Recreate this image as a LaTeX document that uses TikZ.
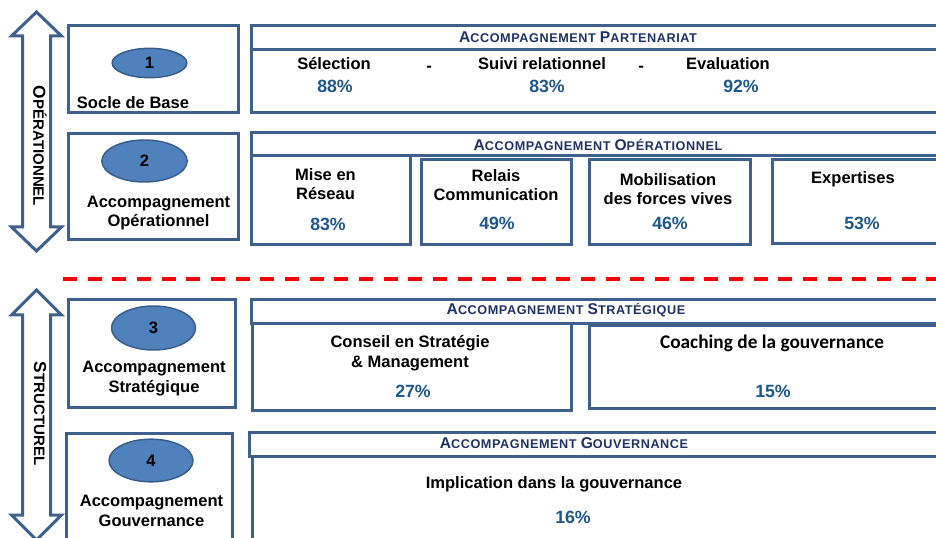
\documentclass[tikz,border=0pt]{standalone}
\usepackage{fontspec}
\setmainfont{Liberation Sans}
\newfontfamily\calibri{Carlito}
\newfontfamily\spacedsans[LetterSpace=4.5]{Liberation Sans}
\usetikzlibrary{shapes.geometric}
\definecolor{frame}{RGB}{62,96,140}
\definecolor{bubblefill}{RGB}{79,129,189}
\definecolor{bubbleline}{RGB}{56,93,138}
\definecolor{titlenavy}{RGB}{31,50,100}
\definecolor{pctblue}{RGB}{30,88,138}
\definecolor{cutred}{RGB}{255,0,0}
\newcommand\ttlsc[2]{{\fontsize{11.7}{13}\selectfont#1}{\fontsize{9.5}{13}\selectfont#2}}
\newcommand\sidesc[2]{{\fontsize{13}{15}\selectfont#1}{\fontsize{11.3}{15}\selectfont#2}}
\begin{document}
\begin{tikzpicture}[x=0.75pt,y=-0.75pt]
        \tikzset{panel/.style={draw=frame,line width=2.25pt,fill=white},
            bigarrow/.style={draw=frame,line width=2.25pt,fill=white,line join=miter},
            bubble/.style={ellipse,draw=bubbleline,line width=1.1pt,fill=bubblefill,inner sep=0pt,
                font=\bfseries\fontsize{12.4}{14}\selectfont},
            lbl/.style={font=\bfseries\fontsize{12.4}{14.6}\selectfont,align=center,inner sep=0pt},
            pct/.style={font=\bfseries\fontsize{13.3}{15}\selectfont,text=pctblue,inner sep=0pt},
            ttl/.style={font=\spacedsans\bfseries\fontsize{9.5}{11}\selectfont,text=titlenavy,inner sep=0pt},
            side/.style={font=\bfseries,rotate=-90,inner sep=0pt}}
        \useasboundingbox (0,0) rectangle (936,538);
        \fill[white] (0,0) rectangle (936,538);
        \clip (0,0) rectangle (936,538);
        % side arrows
        \draw[bigarrow] (36.5,12) -- (61.5,36) -- (50.5,36) -- (50.5,227) -- (61.5,227)
            -- (36.5,251) -- (11.5,227) -- (22.5,227) -- (22.5,36) -- (11.5,36) -- cycle;
        \draw[bigarrow] (36.5,290) -- (61.5,315) -- (50.5,315) -- (50.5,515) -- (61.5,515)
            -- (36.5,540) -- (11.5,515) -- (22.5,515) -- (22.5,315) -- (11.5,315) -- cycle;
        \node[side] (oper) at (40,146) {\sidesc{O}{PÉRATIONNEL}};
        \node[side] (struct) at (40,413.5) {\sidesc{S}{TRUCTUREL}};
        \draw[cutred,line width=3pt,dash pattern=on 10.5pt off 8pt] (63,279) -- (940,279);
        % left column
        \draw[panel] (68.5,26) rectangle (238.5,112.5);
        \draw[panel] (68.5,133.5) rectangle (238.5,240);
        \draw[panel] (68.5,300) rectangle (235,408);
        \draw[panel] (66.5,433.5) rectangle (232,560);
        \node[bubble,minimum width=56pt,minimum height=22pt] (n1) at (149.5,63) {1};
        \node[bubble,minimum width=64pt,minimum height=31.5pt] (n2) at (144.5,161) {2};
        \node[bubble,minimum width=63pt,minimum height=33pt] (n3) at (153.5,328) {3};
        \node[bubble,minimum width=63pt,minimum height=32pt] (n4) at (151,460.5) {4};
        \node[lbl] (socle) at (133,103) {Socle de Base};
        \node[lbl] (opleft) at (158.5,213) {Accompagnement\\Opérationnel};
        \node[lbl] (stleft) at (154,378.5) {Accompagnement\\Stratégique};
        \node[lbl] (gvleft) at (151.5,511) {Accompagnement\\Gouvernance};
        % partenariat
        \draw[panel] (251.5,26) rectangle (945,49.3);
        \draw[panel] (251.5,49.3) rectangle (945,112.3);
        \node[ttl] (tpart) at (578,37) {\ttlsc{A}{CCOMPAGNEMENT} \ttlsc{P}{ARTENARIAT}};
        \node[lbl] (sel) at (334,64) {Sélection};
        \node[lbl] (dash1) at (429,68.5) {-};
        \node[lbl] (suivi) at (542,64) {Suivi relationnel};
        \node[lbl] (dash2) at (641,68.5) {-};
        \node[lbl] (eval) at (728,64) {Evaluation};
        \node[pct] (psel) at (335,86) {88\%};
        \node[pct] (psuivi) at (547,86) {83\%};
        \node[pct] (peval) at (741,86) {92\%};
        % operationnel
        \draw[panel] (251.5,132.3) rectangle (945,155.7);
        \node[ttl] (topr) at (598,145) {\ttlsc{A}{CCOMPAGNEMENT} \ttlsc{O}{PÉRATIONNEL}};
        \draw[panel] (251.5,155.7) rectangle (410.7,244.3);
        \draw[panel] (421,160) rectangle (571,244.3);
        \draw[panel] (589,160) rectangle (750,244.3);
        \draw[panel] (772.3,159.3) rectangle (945,243.3);
        \node[lbl] (reseau) at (325.5,184) {Mise en\\Réseau};
        \node[lbl] (relais) at (496,185) {Relais\\Communication};
        \node[lbl] (mobil) at (668,189) {Mobilisation\\des forces vives};
        \node[lbl] (expert) at (853,179) {Expertises};
        \node[pct] (preseau) at (328,224) {83\%};
        \node[pct] (prelais) at (497,223) {49\%};
        \node[pct] (pmobil) at (670,223) {46\%};
        \node[pct] (pexpert) at (862,223) {53\%};
        % strategique
        \draw[panel] (251.7,300) rectangle (945,324);
        \node[ttl] (tstr) at (566,310.5) {\ttlsc{A}{CCOMPAGNEMENT} \ttlsc{S}{TRATÉGIQUE}};
        \draw[panel] (252.5,324) rectangle (571.7,410.7);
        \draw[panel] (589,325.7) rectangle (945,408.3);
        \node[lbl] (conseil) at (410,353) {Conseil en Stratégie\\\& Management};
        \node[lbl,font=\calibri\bfseries\fontsize{14.5}{16}\selectfont] (coach) at (772,343) {Coaching de la gouvernance};
        \node[pct] (pconseil) at (413,391) {27\%};
        \node[pct] (pcoach) at (773,391) {15\%};
        % gouvernance
        \draw[panel] (249,432.3) rectangle (945,456.7);
        \draw[panel] (252.3,456.7) rectangle (945,560);
        \node[ttl] (tgov) at (564,443.5) {\ttlsc{A}{CCOMPAGNEMENT} \ttlsc{G}{OUVERNANCE}};
        \node[lbl] (implic) at (554,484) {Implication dans la gouvernance};
        \node[pct] (pimplic) at (573,517) {16\%};
    \end{tikzpicture}
\end{document}
